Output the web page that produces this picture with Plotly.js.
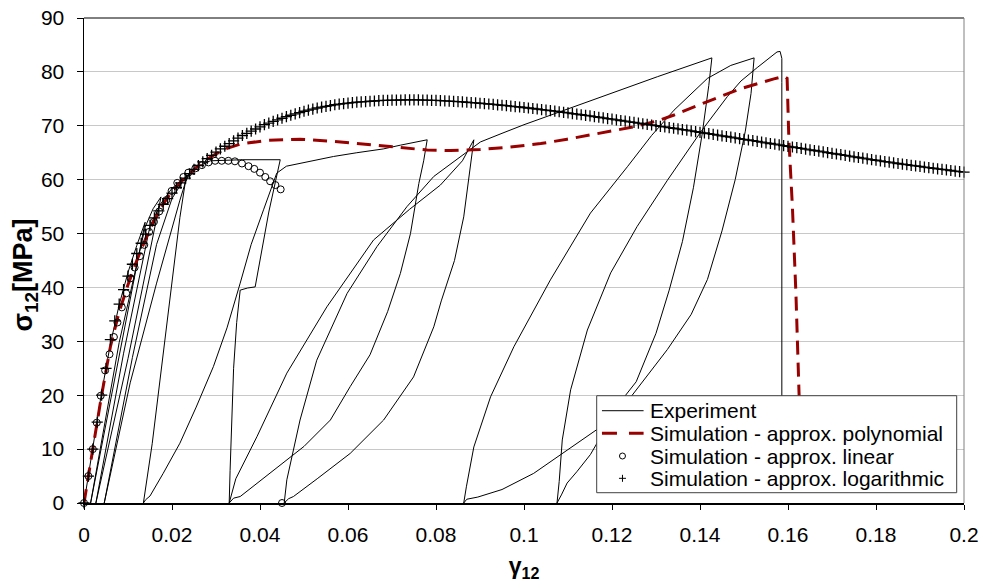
<!DOCTYPE html>
<html>
<head>
<meta charset="utf-8">
<script src="https://cdn.plot.ly/plotly-3.0.1.min.js"></script>
<style>html,body{margin:0;padding:0;background:#fff}#chart{width:984px;height:588px}</style>
</head>
<body>
<div id="chart"></div>
<script>
// ---- Experiment (cyclic loading, strokes separated by null) ----
const expX = [0,0.002,0.004,0.006,0.008,0.010,0.012,0.0139,
  0.008,0.0015,
  0.008,0.0139,0.0157,0.0175,
  0.010,0.0027,
  0.009,0.015,0.0175,0.020,0.0235,
  0.0218,0.0165,0.0105,0.0046,
  0.011,0.0165,0.020,0.023,0.026,0.0287,0.036,0.0446,
  0.042,0.0389,0.0372,0.0355,0.0347,0.034,0.0335,0.0332,0.033,
  null,
  0.024,0.023,0.0218,0.0195,0.0173,0.0155,0.0135,
  0.014,0.015,0.018,0.0218,0.0255,0.0294,0.0325,0.0355,0.038,0.0408,0.0438,0.046,0.0491,0.0567,0.062,0.068,0.0719,0.078,
  0.0772,0.0761,0.0742,0.0719,0.069,0.065,0.0605,0.056,0.050,0.044,0.039,0.0355,0.034,0.033,
  0.0345,0.0393,0.0461,0.0552,0.0658,0.074,0.081,0.086,0.0886,
  0.0878,0.0863,0.0842,0.0812,0.0795,0.0749,0.0681,0.0605,0.053,0.0476,0.0465,0.0455,
  0.0461,0.0491,0.0529,0.0598,0.0666,0.0734,0.0795,0.0855,0.0901,0.095,0.100,0.1075,0.119,0.1303,0.1427,
  0.1420,0.1405,0.1385,0.136,0.133,0.130,0.1255,0.1174,0.1098,0.1022,0.095,0.0895,0.087,0.0863,
  0.0869,0.0886,0.0924,0.0977,0.106,0.1151,0.1235,0.129,0.1341,0.1417,0.147,0.1523,
  0.1516,0.1503,0.148,0.145,0.1417,0.138,0.1326,0.1275,0.1227,0.119,0.1151,0.112,0.1098,0.1085,0.108,0.1075,
  0.108,0.1087,0.1106,0.1144,0.1197,0.1257,0.1326,0.1402,0.1462,0.1493,0.153,0.156,0.1575,0.1582,0.1586,0.1586,0.1586];
const expY = [0,10.5,20.5,29.5,36.8,42.8,47.8,52.1,
  27.2,0,
  29.8,51.2,54.6,56.8,
  26.8,0,
  27.8,51.4,55.6,58.4,60.7,
  56.2,40.8,22.3,0,
  27.0,48.0,56.5,60.4,62.5,63.5,63.7,63.7,
  54,40.1,39.9,39.5,33.5,25,15,6,0,
  null,
  61.2,59.4,53,37.5,22.3,11,0,
  0.6,1.3,5.5,11.1,17.8,25.3,32.5,40.8,48,54.4,61.2,62.5,63.0,64.3,65.0,65.7,66.4,67.4,
  63.5,59.3,50,42.6,35.5,27.5,21.6,15.4,10.5,6.7,3.5,1.2,0.9,0,
  4.5,12.3,24.1,36.4,48.8,54.5,59,63.5,67.4,
  62.4,53.1,45,37.5,32.7,23.4,15.4,9.2,4.5,1.2,0.8,0,
  4.3,15.4,26.5,38.9,47.6,55,60.6,64.3,67.0,68.6,70.2,72.4,75.8,79.1,82.6,
  77.5,68.5,58.5,48.5,39.5,31.5,22.5,14.1,9.8,5.5,2.5,1.1,0.7,0,
  3,10.4,19.7,29,41.4,53.8,62.4,68.2,72.9,78.8,81.2,82.6,
  76,69,60,50.5,41.5,35,28.5,23,18,14.5,9,5.8,3.7,1.5,0.8,0,
  4,11.7,21,32.1,42.7,51.3,59.9,68.9,75.4,78.3,80.8,82.8,83.7,83.8,82.5,78,18];

// ---- Simulation - approx. polynomial ----
const polyX = [0,0.002,0.004,0.006,0.008,0.010,0.012,0.014,0.016,0.018,0.020,0.022,0.024,0.026,0.028,0.030,0.0325,0.0355,0.0416,0.0491,0.0567,0.0643,0.0719,0.078,0.0833,0.090,0.0962,0.1038,0.1098,0.1174,0.125,0.1307,0.1341,0.1417,0.1493,0.1568,0.1591,0.1598,0.1602,0.161,0.1618,0.1625,0.1632];
const polyY = [0,10,20,29,35.5,40.5,45,49,52.5,55.5,57.8,59.6,61.1,62.6,63.8,64.8,65.8,66.6,67.3,67.5,67.1,66.5,65.9,65.5,65.4,65.6,66,66.7,67.5,68.6,69.8,71.0,72.0,74.5,76.9,78.7,79.2,78.8,67.4,55,38.9,20.6,4];

// ---- Simulation - approx. linear ----
const linX = [0,0.001,0.002,0.0029,0.0038,0.0048,0.0058,0.0068,0.0076,0.0086,0.0096,0.0106,0.0115,0.0127,0.0137,0.0148,0.0159,0.0171,0.0187,0.0199,0.0212,0.0226,0.0237,0.0253,0.0268,0.0283,0.0298,0.0313,0.0328,0.0343,0.0359,0.0374,0.0387,0.0400,0.0412,0.0423,0.0435,0.0447,0.045];
const linY = [0,5,10,14.9,19.9,24.6,27.6,30.8,33.5,36.3,38.9,41.7,43.7,45.8,47.9,50.3,52.2,54.1,56.2,57.9,59.4,60.5,61.3,62.1,62.7,63.2,63.5,63.5,63.5,63.4,63.0,62.5,62.0,61.3,60.5,59.7,59.0,58.2,0];

// ---- Simulation - approx. logarithmic (strain step 0.001 from 0) ----
const logStart = 0, logStep = 0.001;
const logY = [0,5,10,15,20,25,30.3,33.8,36.9,39.6,
  42.1,44.3,46.3,48.2,49.9,51.5,52.9,54.2,55.4,56.5,
  57.5,58.5,59.4,60.3,61.1,61.9,62.6,63.3,63.9,64.5,
  65.1,65.7,66.2,66.7,67.2,67.7,68.2,68.6,69.0,69.4,
  69.8,70.2,70.5,70.8,71.1,71.4,71.7,71.95,72.2,72.45,
  72.7,72.9,73.1,73.3,73.45,73.6,73.75,73.9,74.0,74.1,
  74.2,74.3,74.4,74.45,74.5,74.55,74.6,74.65,74.7,74.72,
  74.75,74.77,74.78,74.79,74.8,74.8,74.79,74.77,74.75,74.72,
  74.7,74.66,74.62,74.58,74.53,74.48,74.43,74.37,74.31,74.25,
  74.18,74.11,74.04,73.97,73.89,73.81,73.73,73.65,73.57,73.48,
  73.39,73.3,73.21,73.11,73.01,72.91,72.81,72.71,72.6,72.49,
  72.38,72.27,72.16,72.05,71.94,71.82,71.7,71.58,71.46,71.34,
  71.22,71.1,70.98,70.86,70.74,70.62,70.5,70.38,70.26,70.14,
  70.02,69.9,69.78,69.66,69.54,69.42,69.3,69.18,69.05,68.92,
  68.79,68.66,68.53,68.4,68.27,68.14,68.01,67.88,67.75,67.62,
  67.49,67.36,67.23,67.1,66.97,66.84,66.71,66.58,66.45,66.32,
  66.19,66.06,65.93,65.8,65.67,65.54,65.41,65.28,65.15,65.02,
  64.89,64.76,64.63,64.5,64.37,64.24,64.11,63.98,63.85,63.72,
  63.6,63.48,63.36,63.24,63.12,63.0,62.89,62.78,62.67,62.56,
  62.45,62.34,62.23,62.12,62.01,61.9,61.8,61.7,61.6,61.5,
  61.4];

// ---- Axis ticks, titles and legend labels ----
const xTicks = [0,0.02,0.04,0.06,0.08,0.1,0.12,0.14,0.16,0.18,0.2];
const xTickText = ['0','0.02','0.04','0.06','0.08','0.1','0.12','0.14','0.16','0.18','0.2'];
const yTicks = [0,10,20,30,40,50,60,70,80,90];
const xTitle = '<b>γ<sub>12</sub></b>';
const yTitle = '<b>σ<sub>12</sub>[MPa]</b>';
const legendLabels = ['Experiment','Simulation - approx. polynomial','Simulation - approx. linear','Simulation - approx. logarithmic'];

const FONT = 'Liberation Sans, Arial, sans-serif';
const RED = '#990000';

const traces = [
  {x: expX, y: expY, type: 'scatter', mode: 'lines', line: {color: '#000', width: 1}, connectgaps: false, hoverinfo: 'skip'},
  {x: polyX, y: polyY, type: 'scatter', mode: 'lines', line: {color: RED, width: 3, dash: '14px,8px'}, hoverinfo: 'skip'},
  {x: linX, y: linY, type: 'scatter', mode: 'markers', cliponaxis: false,
   marker: {symbol: 'circle-open', size: 7, color: '#000', line: {width: 1, color: '#000'}}, hoverinfo: 'skip'},
  {x0: logStart, dx: logStep, y: logY, type: 'scatter', mode: 'markers', cliponaxis: false,
   marker: {symbol: 'cross-thin-open', size: 8, color: '#000', line: {width: 1.3, color: '#000'}}, hoverinfo: 'skip'}
];

// legend geometry (paper coordinates)
const LX0 = 0.5826, LX1 = 0.9917, LY0 = 0.0212, LY1 = 0.2212;
const rowsY = [0.1903, 0.1437, 0.0969, 0.0509];
const sampX0 = 0.5886, sampX1 = 0.6359, sampC = 0.6119, textX = 0.6413;

const shapes = [
  {type: 'line', xref: 'paper', yref: 'paper', x0: 0, x1: 1, y0: 1, y1: 1, line: {color: '#000', width: 1}},
  {type: 'line', xref: 'paper', yref: 'paper', x0: 1, x1: 1, y0: 0, y1: 1, line: {color: '#808080', width: 1}},
  {type: 'rect', xref: 'paper', yref: 'paper', x0: LX0, x1: LX1, y0: LY0, y1: LY1, layer: 'above',
   fillcolor: '#fff', line: {color: '#404040', width: 1}},
  {type: 'line', xref: 'paper', yref: 'paper', x0: sampX0, x1: sampX1, y0: rowsY[0], y1: rowsY[0], layer: 'above', line: {color: '#000', width: 1}},
  {type: 'line', xref: 'paper', yref: 'paper', x0: sampX0, x1: sampX1, y0: rowsY[1], y1: rowsY[1], layer: 'above', line: {color: RED, width: 3, dash: '15px,12px'}},
  {type: 'circle', xref: 'paper', yref: 'paper', xsizemode: 'pixel', ysizemode: 'pixel', xanchor: sampC, yanchor: rowsY[2],
   x0: -3, x1: 3, y0: -3, y1: 3, layer: 'above', line: {color: '#000', width: 1}},
  {type: 'line', xref: 'paper', yref: 'paper', xsizemode: 'pixel', ysizemode: 'pixel', xanchor: sampC, yanchor: rowsY[3],
   x0: -3.5, x1: 3.5, y0: 0, y1: 0, layer: 'above', line: {color: '#000', width: 1}},
  {type: 'line', xref: 'paper', yref: 'paper', xsizemode: 'pixel', ysizemode: 'pixel', xanchor: sampC, yanchor: rowsY[3],
   x0: 0, x1: 0, y0: -3.5, y1: 3.5, layer: 'above', line: {color: '#000', width: 1}}
];

const annotations = legendLabels.map((t, i) => ({
  text: t, xref: 'paper', yref: 'paper', x: textX, y: rowsY[i], xanchor: 'left', yanchor: 'middle',
  showarrow: false, font: {family: FONT, size: 21, color: '#000'}
}));
// y-axis title as rotated annotation
annotations.push({
  text: yTitle, xref: 'paper', yref: 'paper', x: -0.0665, y: 0.47, xanchor: 'center', yanchor: 'middle',
  textangle: -90, showarrow: false, font: {family: FONT, size: 27, color: '#000'}
});

const layout = {
  width: 984, height: 588,
  margin: {l: 84, r: 20, t: 18, b: 85},
  paper_bgcolor: '#fff', plot_bgcolor: '#fff',
  showlegend: false,
  font: {family: FONT, size: 21, color: '#000'},
  xaxis: {
    range: [0, 0.2], tickvals: xTicks, ticktext: xTickText,
    showgrid: false, zeroline: false, showline: true, linecolor: '#000', linewidth: 1.5,
    ticks: 'outside', ticklen: 5, tickwidth: 1, tickcolor: '#000', ticklabelstandoff: 7,
    tickfont: {family: FONT, size: 21, color: '#000'},
    title: {text: xTitle, font: {family: FONT, size: 23, color: '#000'}, standoff: 13}
  },
  yaxis: {
    range: [0, 90], tickvals: yTicks,
    showgrid: true, gridcolor: '#c8c8c8', gridwidth: 1, zeroline: false,
    showline: true, linecolor: '#000', linewidth: 1.5,
    ticks: 'outside', ticklen: 6, tickwidth: 1, tickcolor: '#000', ticklabelstandoff: 8,
    tickfont: {family: FONT, size: 21, color: '#000'}
  },
  shapes: shapes,
  annotations: annotations
};

Plotly.newPlot('chart', traces, layout, {staticPlot: true, displayModeBar: false});
</script>
</body>
</html>
